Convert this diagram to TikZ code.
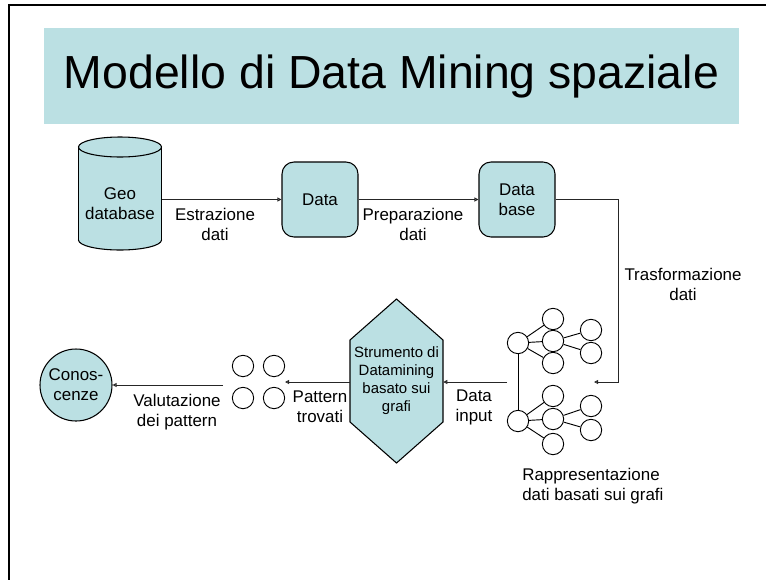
\documentclass[tikz,border=0pt]{standalone}
\usepackage{fontspec}
\setmainfont{Liberation Sans}
\usetikzlibrary{arrows.meta}
\definecolor{boxfill}{RGB}{187,224,227}
\begin{document}
\begin{tikzpicture}[x=0.75pt,y=-0.75pt,
  lbl/.style={font=\fontsize{12.7}{15}\selectfont, align=center, inner sep=0pt},
  shapeline/.style={draw=black, line width=0.8pt},
  arr/.style={draw=black!85, line width=0.7pt, -{Triangle[open,length=3pt,width=3pt]}},
  roundbox/.style={shapeline, fill=boxfill, rounded corners=9pt, minimum width=57pt,
    minimum height=56.25pt, inner sep=0pt, lbl},
  gnode/.style={circle, draw=black, line width=0.7pt, minimum size=16pt, inner sep=0pt},
  gedge/.style={draw=black, line width=0.7pt}]
\useasboundingbox (0,0) rectangle (766,579);

% slide frame
\draw[line width=2pt] (9,600) -- (9,5) -- (790,5);

% title bar
\node[fill=boxfill, minimum width=521.25pt, minimum height=72pt, inner sep=0pt,
  font=\fontsize{34.8}{40}\selectfont] (title) at (391.5,76) {Modello di Data Mining spaziale};

% geo database cylinder
\node[minimum width=62.25pt, minimum height=84.75pt, inner sep=0pt] (geo) at (120,193.5) {};
\filldraw[shapeline, fill=boxfill] (120,240) ellipse [x radius=41.5, y radius=10];
\fill[boxfill] (78.5,147) rectangle (161.5,240);
\draw[shapeline] (78.5,147) -- (78.5,240) (161.5,147) -- (161.5,240);
\filldraw[shapeline, fill=boxfill] (120,147) ellipse [x radius=41.5, y radius=10];
\node[lbl] (geotxt) at (120,204) {Geo\\database};

% data boxes
\node[roundbox] (data) at (320,199.5) {Data};
\node[roundbox] (db) at (517,199.5) {Data\\base};

\draw[arr] (geo.east |- data.west) -- (data.west);
\draw[arr] (data.east) -- (db.west);
\node[lbl] (l1) at (215,224) {Estrazione\\dati};
\node[lbl] (l2) at (413,224) {Preparazione\\dati};

\coordinate (bend) at (618,382);
\coordinate (gin) at (594,382);
\draw[arr] (db.east) -| (bend) -- (gin);
\node[lbl] (l3) at (683,284) {Trasformazione\\dati};

% graph representation
\foreach \n/\x/\y in {a/518/343, a1/553/319, a2/553/341, a3/553/363, a21/591/330, a22/591/353,
                      b/518/421, b1/553/396, b2/553/419, b3/553/444, b21/591/406, b22/591/430}
  \node[gnode] (\n) at (\x,\y) {};
\foreach \p/\q in {a/a1, a/a2, a/a3, a2/a21, a2/a22, a/b, b/b1, b/b2, b/b3, b2/b21, b2/b22}
  \draw[gedge] (\p) -- (\q);
\node[lbl, align=left, anchor=west] (l7) at (522,486) {Rappresentazione\\dati basati sui grafi};

% data mining tool
\path[shapeline, fill=boxfill] (396.5,299) -- (443,340) -- (443,422) -- (396.5,463)
  -- (350,422) -- (350,340) -- cycle;
\node[minimum width=69.75pt, minimum height=123pt, inner sep=0pt, align=center,
  font=\fontsize{11.2}{13.5}\selectfont] (hex) at (396.5,381)
  {Strumento di\\Datamining\\basato sui\\grafi};

\coordinate (gout) at (507,382);
\draw[arr] (gout) -- (hex.east |- gout);
\node[lbl] (l4) at (474,407) {Data\\input};

% found patterns
\node[gnode] (p1) at (243,366) {};
\node[gnode] (p2) at (274,366) {};
\node[gnode] (p3) at (243,398) {};
\node[gnode] (p4) at (274,398) {};
\coordinate (pin) at (285,382);
\draw[arr] (hex.west |- pin) -- (pin);
\node[lbl] (l5) at (320,407) {Pattern\\trovati};

% knowledge
\node[circle, shapeline, fill=boxfill, minimum size=54pt, inner sep=0pt, lbl] (know) at (76,385) {Conos-\\cenze};
\coordinate (pout) at (223,385);
\draw[arr] (pout) -- (know.east);
\node[lbl] (l6) at (177,412.5) {Valutazione\\dei pattern};
\end{tikzpicture}
\end{document}
